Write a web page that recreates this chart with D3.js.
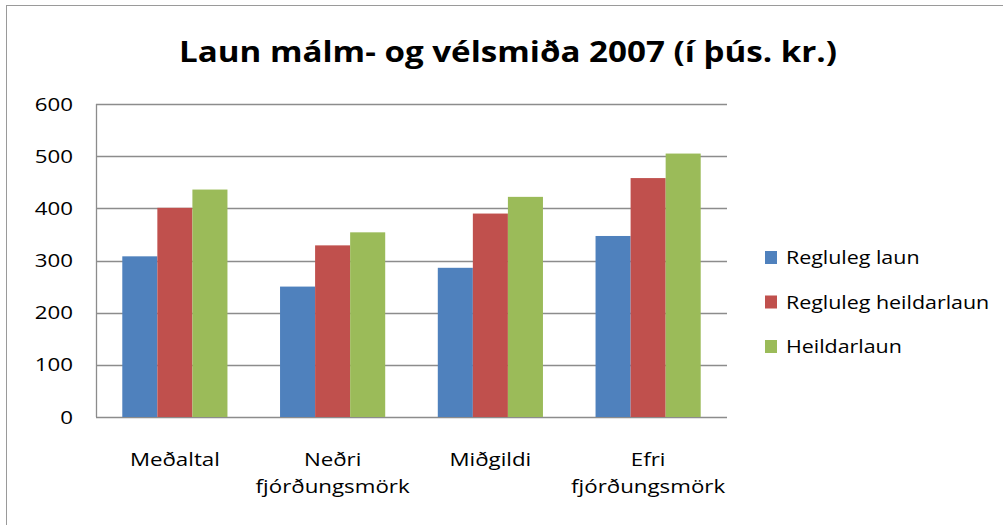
<!DOCTYPE html>
<html>
<head>
<meta charset="utf-8">
<script src="https://cdn.jsdelivr.net/npm/d3@7"></script>
<style>
  body { margin: 0; background: #fff; }
  text { font-family: "Open Sans", "DejaVu Sans", sans-serif; fill: #000; }
</style>
</head>
<body>
<div id="chart"></div>
<script>
// values (þús. kr.)
var categories = [["Meðaltal"], ["Neðri", "fjórðungsmörk"], ["Miðgildi"], ["Efri", "fjórðungsmörk"]]
var seriesNames = ["Regluleg laun", "Regluleg heildarlaun", "Heildarlaun"]
var reglulegLaun = [308, 250, 286, 347]
var reglulegHeildarlaun = [401, 329, 390, 458]
var heildarlaun = [436, 354, 422, 505]
var yTicks = [0, 100, 200, 300, 400, 500, 600]
var colors = ["#4F81BD", "#C0504D", "#9BBB59"]

var series = [reglulegLaun, reglulegHeildarlaun, heildarlaun]

var width = 1003, height = 525
var plot = { left: 96, right: 727, top: 104, bottom: 417 }
// the reference text looks stretched sideways
var stretch = "scale(1.24,1)"

var svg = d3.select("#chart").append("svg")
  .attr("width", width)
  .attr("height", height)

// chart frame (cut off at right and bottom like the reference)
svg.append("rect")
  .attr("x", 6.5).attr("y", 5.5)
  .attr("width", width + 20).attr("height", height + 20)
  .attr("fill", "none").attr("stroke", "#9a9a9a")

svg.append("text")
  .attr("x", 508).attr("y", 62)
  .attr("text-anchor", "middle")
  .attr("font-size", 29)
  .attr("font-weight", "bold")
  .attr("textLength", 658)
  .attr("lengthAdjust", "spacingAndGlyphs")
  .text("Laun málm- og vélsmiða 2007 (í þús. kr.)")

var x = d3.scaleBand()
  .domain(d3.range(categories.length))
  .range([plot.left, plot.right])
  .paddingInner(0).paddingOuter(0)

var groupW = x.bandwidth() * 3 / 4.5   // Excel gap width 150%
var xs = d3.scaleBand()
  .domain(d3.range(series.length))
  .range([0, groupW])

var y = d3.scaleLinear().domain([0, 600]).range([plot.bottom, plot.top])

// gridlines
svg.append("g").selectAll("line")
  .data(yTicks)
  .join("line")
  .attr("x1", plot.left).attr("x2", plot.right)
  .attr("y1", d => Math.round(y(d)) + 0.5).attr("y2", d => Math.round(y(d)) + 0.5)
  .attr("stroke", "#8c8c8c").attr("stroke-width", 1.3)

// y axis labels
svg.append("g").selectAll("text")
  .data(yTicks)
  .join("text")
  .attr("transform", d => "translate(73," + (y(d) + 6.5) + ")" + stretch)
  .attr("text-anchor", "end")
  .attr("font-size", 18)
  .text(d => d)

// bars
var groups = svg.append("g").selectAll("g")
  .data(series)
  .join("g")
  .attr("fill", (d, i) => colors[i])

groups.each(function(vals, si) {
  d3.select(this).selectAll("rect")
    .data(vals)
    .join("rect")
    .attr("x", (d, ci) => x(ci) + (x.bandwidth() - groupW) / 2 + xs(si))
    .attr("y", d => y(d))
    .attr("width", xs.bandwidth())
    .attr("height", d => y(0) - y(d))
})

// axis line
svg.append("line")
  .attr("x1", plot.left + 0.5).attr("x2", plot.left + 0.5)
  .attr("y1", plot.top).attr("y2", plot.bottom)
  .attr("stroke", "#8c8c8c").attr("stroke-width", 1.3)

// category labels
var cat = svg.append("g").selectAll("text")
  .data(categories)
  .join("text")
  .attr("transform", (d, i) => "translate(" + (x(i) + x.bandwidth() / 2) + ",466)" + stretch)
  .attr("text-anchor", "middle")
  .attr("font-size", 18)

cat.selectAll("tspan")
  .data(d => d)
  .join("tspan")
  .attr("x", 0)
  .attr("dy", (d, i) => i === 0 ? 0 : 27)
  .text(d => d)

// legend
var legend = svg.append("g").selectAll("g")
  .data(seriesNames)
  .join("g")
  .attr("transform", (d, i) => "translate(765," + (251 + i * 44.5) + ")")

legend.append("rect")
  .attr("width", 12).attr("height", 13)
  .attr("fill", (d, i) => colors[i])

legend.append("text")
  .attr("transform", "translate(21,13) scale(1.19,1)")
  .attr("font-size", 18)
  .text(d => d)
</script>
</body>
</html>
